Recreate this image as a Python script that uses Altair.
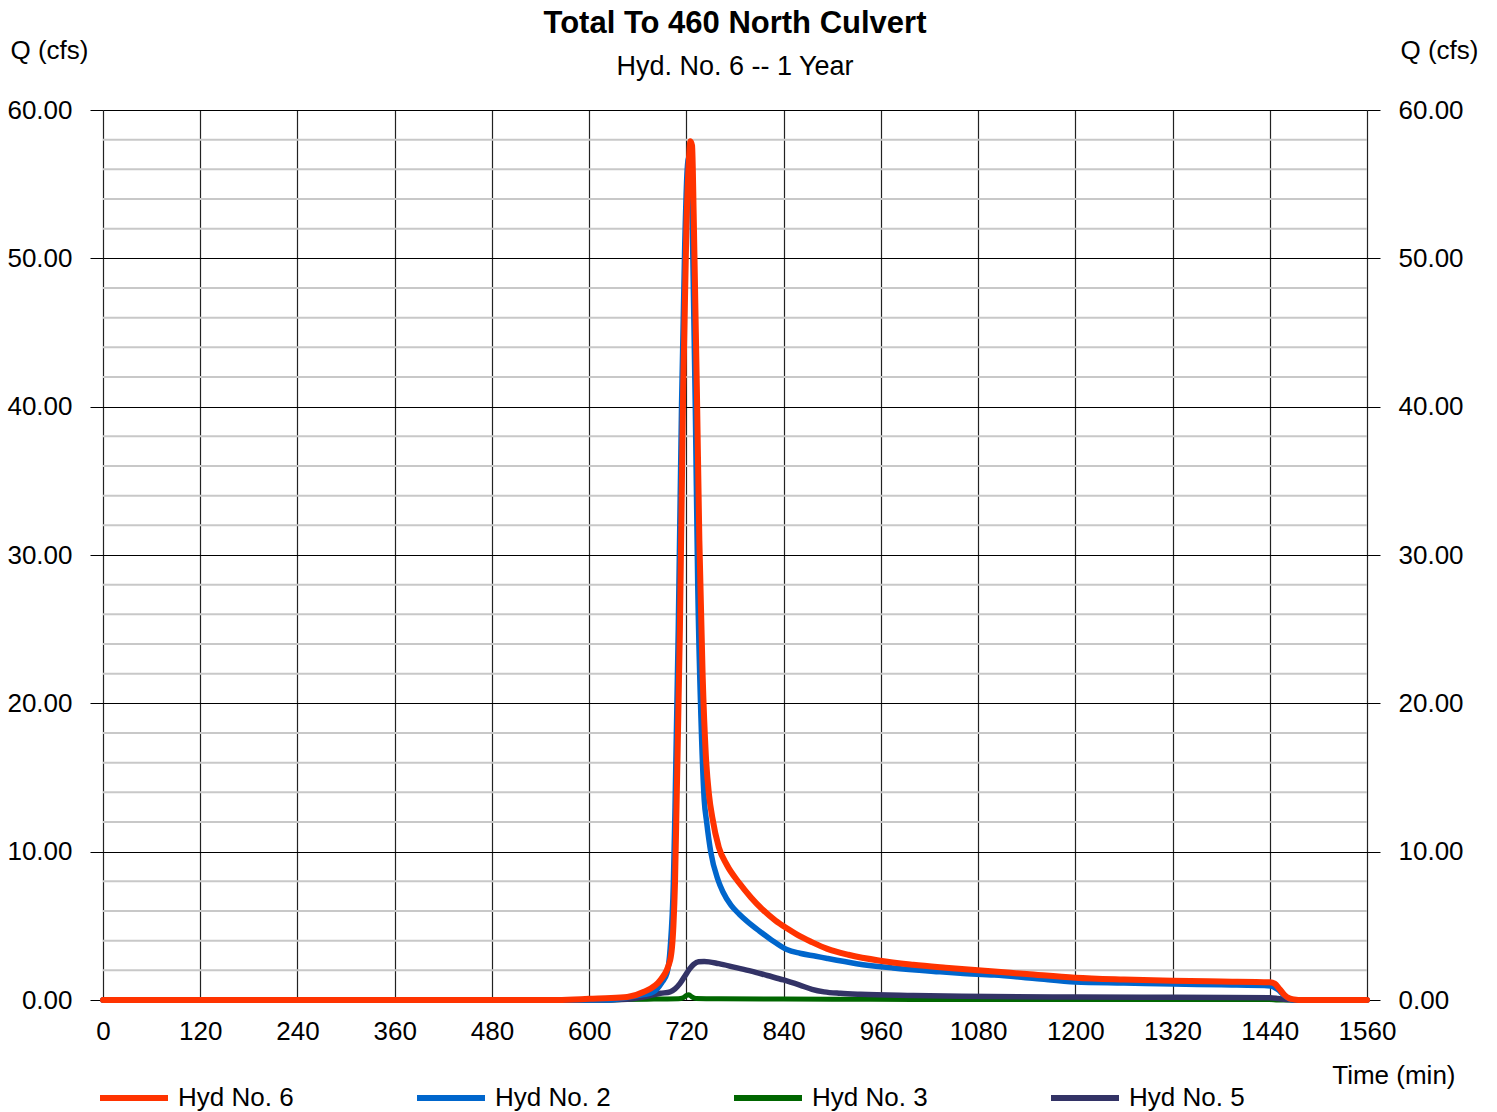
import altair as alt
import pandas as pd

# ---- data ----
t6 = [0, 560, 590, 600, 620, 647, 667, 688, 700, 704, 706, 708, 712, 716, 720, 723, 725, 727, 729, 731, 733, 736,
      740, 744, 748, 752, 760, 770, 785, 800, 815, 830, 845, 860, 875, 894, 920, 959, 1000, 1040, 1080, 1140, 1200,
      1260, 1320, 1380, 1440, 1446, 1452, 1458, 1464, 1470, 1480, 1560]
q6 = [0, 0, 0.05, 0.08, 0.12, 0.2, 0.54, 1.35, 2.7, 5.0, 8.0, 13.5, 25.0, 41.0, 52.0, 56.5, 57.9, 57.6, 53.0, 47.0,
      41.0, 31.0, 22.0, 16.5, 13.8, 12.3, 10.3, 9.1, 7.9, 6.9, 6.05, 5.35, 4.8, 4.3, 3.9, 3.45, 3.05, 2.65, 2.38,
      2.18, 2.0, 1.75, 1.5, 1.38, 1.3, 1.25, 1.2, 1.1, 0.75, 0.35, 0.12, 0.04, 0, 0]

t2 = [0, 620, 640, 660, 679, 690, 696, 700, 704, 706, 710, 714, 718, 721, 723, 726, 728, 731, 734, 738, 742, 745,
      750, 759, 765, 775, 785, 795, 810, 825, 844, 860, 880, 894, 930, 975, 1033, 1058, 1100, 1150, 1200, 1260,
      1321, 1380, 1441, 1450, 1458, 1465, 1470, 1560]
q2 = [0, 0, 0.1, 0.3, 0.54, 1.2, 1.8, 3.5, 8.0, 13.0, 25.0, 40.0, 51.0, 56.0, 56.8, 55.0, 50.0, 40.0, 28.0, 19.0,
      13.5, 12.0, 10.0, 8.1, 7.3, 6.4, 5.8, 5.3, 4.65, 4.05, 3.4, 3.15, 2.95, 2.8, 2.45, 2.16, 1.9, 1.8, 1.68, 1.45,
      1.22, 1.15, 1.08, 1.02, 0.95, 0.7, 0.3, 0.05, 0, 0]

t3 = [0, 620, 640, 680, 710, 716, 720, 723, 727, 732, 760, 840, 900, 1000, 1200, 1440, 1450, 1560]
q3 = [0, 0, 0.03, 0.06, 0.08, 0.15, 0.3, 0.35, 0.2, 0.1, 0.08, 0.07, 0.05, 0.04, 0.03, 0.03, 0, 0]

t5 = [0, 620, 647, 667, 688, 700, 706, 712, 718, 724, 729, 735, 742, 760, 780, 800, 820, 840, 860, 875, 890, 910,
      935, 1000, 1060, 1200, 1320, 1440, 1450, 1460, 1470, 1560]
q5 = [0, 0, 0.05, 0.2, 0.45, 0.55, 0.75, 1.1, 1.6, 2.1, 2.4, 2.58, 2.6, 2.45, 2.2, 1.95, 1.65, 1.35, 1.0, 0.72,
      0.55, 0.45, 0.38, 0.3, 0.25, 0.2, 0.18, 0.15, 0.1, 0.03, 0, 0]

series_names = ["Hyd No. 6", "Hyd No. 2", "Hyd No. 3", "Hyd No. 5"]
series_colors = ["#FF3300", "#0066CC", "#006600", "#333366"]

x_ticks = [0, 120, 240, 360, 480, 600, 720, 840, 960, 1080, 1200, 1320, 1440, 1560]
y_major = [0, 10, 20, 30, 40, 50, 60]
y_minor = [v for v in range(0, 61, 2) if v % 10 != 0]

rows = []
for name, ts, qs in [("Hyd No. 6", t6, q6), ("Hyd No. 2", t2, q2), ("Hyd No. 3", t3, q3), ("Hyd No. 5", t5, q5)]:
    for t, q in zip(ts, qs):
        rows.append({"series": name, "time": t, "q": q})
df = pd.DataFrame(rows)

FONT = "Liberation Sans"
FS = 26

xscale = alt.Scale(domain=[0, 1560], nice=False, zero=False)
yscale = alt.Scale(domain=[0, 60], nice=False)
color_scale = alt.Scale(domain=series_names, range=series_colors)

x_axis = alt.Axis(values=x_ticks, format="d", grid=True, gridColor="#222222", gridWidth=1.2,
                  ticks=False, domain=False, labelFontSize=FS, labelFont=FONT, labelColor="#000000",
                  labelPadding=18, labelFlush=False, labelOverlap=False,
                  title="Time (min)", titleFontSize=FS, titleFont=FONT, titleFontWeight="normal",
                  titleColor="#000000", titleAlign="right", titleBaseline="middle",
                  titleX=1352, titleY=75, titleAnchor="end")

left_axis = alt.Axis(orient="left", values=y_major, format=".2f", grid=True, gridColor="#000000", gridWidth=1,
                     tickSize=13, tickColor="#000000", tickWidth=1, domain=False,
                     labelFontSize=FS, labelFont=FONT, labelColor="#000000", labelPadding=18,
                     title="Q (cfs)", titleFontSize=FS, titleFont=FONT, titleFontWeight="normal",
                     titleColor="#000000", titleAngle=0, titleAlign="left", titleBaseline="middle",
                     titleX=-93, titleY=-60)

right_axis = alt.Axis(orient="right", values=y_major, format=".2f", grid=False,
                      tickSize=13, tickColor="#000000", tickWidth=1, domain=False,
                      labelFontSize=FS, labelFont=FONT, labelColor="#000000", labelPadding=18,
                      title="Q (cfs)", titleFontSize=FS, titleFont=FONT, titleFontWeight="normal",
                      titleColor="#000000", titleAngle=0, titleAlign="right", titleBaseline="middle",
                      titleX=111, titleY=-60)

minor_df = pd.DataFrame({"q": y_minor})
minor_grid = alt.Chart(minor_df).mark_rule(color="#C8C8C8", strokeWidth=2).encode(
    y=alt.Y("q:Q", scale=yscale, axis=right_axis)
)

widths = {"Hyd No. 6": 6, "Hyd No. 2": 5.5, "Hyd No. 3": 5, "Hyd No. 5": 5.5}
line_layers = []
for name in ["Hyd No. 3", "Hyd No. 5", "Hyd No. 2", "Hyd No. 6"]:
    line_layers.append(
        alt.Chart(df).transform_filter(alt.datum.series == name)
        .mark_line(strokeWidth=widths[name], interpolate="monotone", strokeCap="round", strokeJoin="round")
        .encode(
            x=alt.X("time:Q", scale=xscale, axis=x_axis),
            y=alt.Y("q:Q", scale=yscale, axis=left_axis),
            color=alt.Color("series:N", scale=color_scale,
                            legend=alt.Legend(orient="none", legendX=-6, legendY=951, direction="horizontal",
                                              columns=4, title=None, symbolType="stroke", symbolSize=4624,
                                              symbolStrokeWidth=6, labelFontSize=FS, labelFont=FONT,
                                              labelColor="#000000", labelOffset=7, columnPadding=111,
                                              labelLimit=300)),
        )
    )
lines = alt.layer(*line_layers)

chart = alt.layer(minor_grid, lines).resolve_scale(y="independent").properties(
    width=1264, height=890,
    title=alt.TitleParams(text="Total To 460 North Culvert", subtitle="Hyd. No. 6 -- 1 Year",
                          font=FONT, fontSize=31, fontWeight="bold", color="#000000",
                          subtitleFont=FONT, subtitleFontSize=27, subtitleColor="#000000",
                          subtitlePadding=14, anchor="middle", frame="group", offset=-44),
    padding={"left": 103, "top": 110, "right": 130, "bottom": 112},
    autosize=alt.AutoSizeParams(type="none"),
).configure_view(stroke=None).configure(background="white")

chart.save("out.html", embed_options={"renderer": "svg", "actions": False})
